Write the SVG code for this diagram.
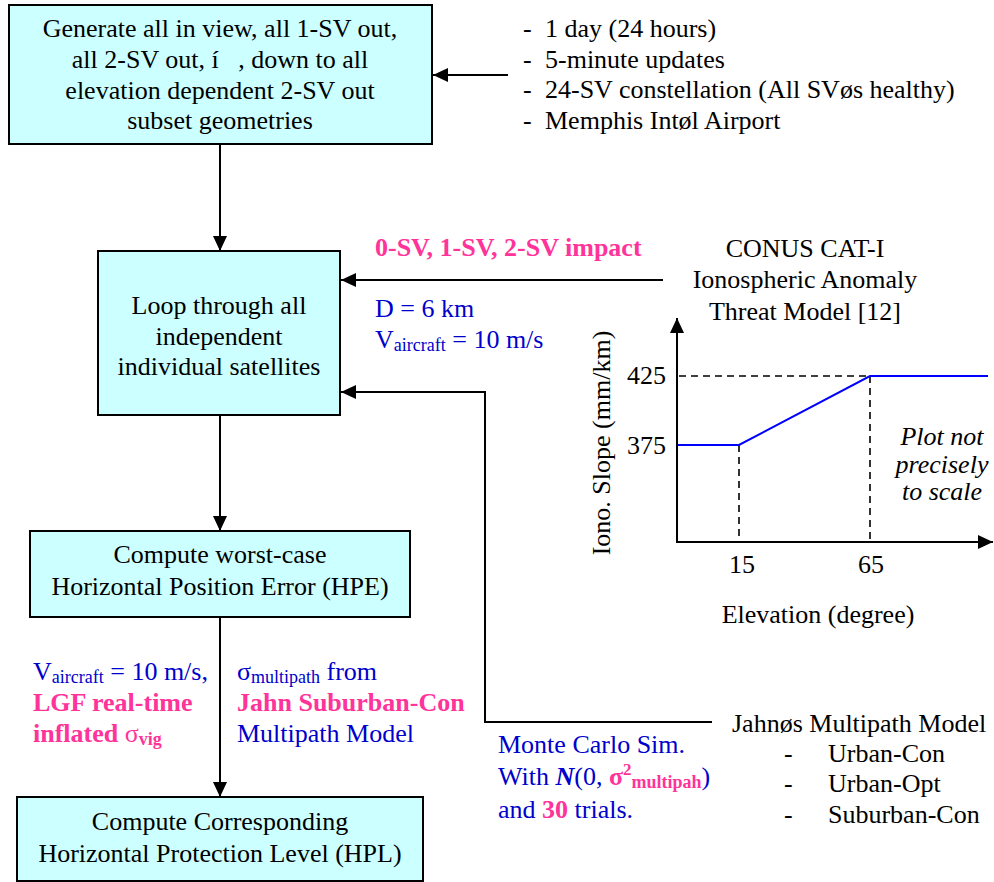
<svg xmlns="http://www.w3.org/2000/svg" width="994" height="882" viewBox="0 0 994 882">
<style>
text{font-family:"Liberation Serif","Times New Roman",serif;font-size:26px;fill:#000}
.c{text-anchor:middle}
.box{fill:#CCFFFF;stroke:#000;stroke-width:2}
.ln{fill:none;stroke:#000;stroke-width:2}
.dash{fill:none;stroke:#000;stroke-width:1.6;stroke-dasharray:7,5}
.blue{fill:#0000CC}
.pink{fill:#FF3399;font-weight:bold}
.sub{font-size:18px}
.it{font-style:italic}
.pre{white-space:pre}
</style>
<defs>
<marker id="ah" markerUnits="userSpaceOnUse" markerWidth="16" markerHeight="14" refX="15" refY="7" orient="auto">
<path d="M0,0 L15,7 L0,14 Z" fill="#000"/>
</marker>
</defs>

<g id="connectors">
<line class="ln" x1="220" y1="144" x2="220" y2="251" marker-end="url(#ah)"/>
<line class="ln" x1="220" y1="415" x2="220" y2="531" marker-end="url(#ah)"/>
<line class="ln" x1="220" y1="617" x2="220" y2="797" marker-end="url(#ah)"/>
<line class="ln" x1="508" y1="75" x2="433" y2="75" marker-end="url(#ah)"/>
<line class="ln" x1="663" y1="280" x2="341" y2="280" marker-end="url(#ah)"/>
<polyline class="ln" points="712,722 485,722 485,392 341,392" marker-end="url(#ah)"/>
</g>

<g id="node-generate">
<rect class="box" x="9" y="5" width="423" height="139"/>
<text class="c" x="220" y="37">Generate all in view, all 1-SV out,</text>
<text class="c pre" x="220" y="68">all 2-SV out, í   , down to all</text>
<text class="c" x="220" y="99">elevation dependent 2-SV out</text>
<text class="c" x="220" y="129">subset geometries</text>
</g>

<g id="node-settings">
<text x="523" y="37">-</text><text x="545" y="37">1 day (24 hours)</text>
<text x="523" y="68">-</text><text x="545" y="68">5-minute updates</text>
<text x="523" y="98">-</text><text x="545" y="98">24-SV constellation (All SVøs healthy)</text>
<text x="523" y="129">-</text><text x="545" y="129">Memphis Intøl Airport</text>
</g>

<g id="node-loop">
<rect class="box" x="98" y="251" width="242" height="164"/>
<text class="c" x="219" y="314">Loop through all</text>
<text class="c" x="219" y="345">independent</text>
<text class="c" x="219" y="375">individual satellites</text>
</g>

<g id="label-impact">
<text class="pink" x="375" y="256">0-SV, 1-SV, 2-SV impact</text>
<text class="blue" x="375" y="317">D = 6 km</text>
<text class="blue" x="375" y="348">V<tspan class="sub" dy="3">aircraft</tspan><tspan dy="-3"> = 10 m/s</tspan></text>
</g>

<g id="node-threat">
<text class="c" x="805" y="257">CONUS CAT-I</text>
<text class="c" x="805" y="288">Ionospheric Anomaly</text>
<text class="c" x="805" y="320">Threat Model [12]</text>
</g>

<g id="chart">
<line class="ln" x1="677" y1="543" x2="677" y2="318" marker-end="url(#ah)"/>
<line class="ln" x1="676" y1="542" x2="993" y2="542" marker-end="url(#ah)"/>
<line class="dash" x1="679" y1="376" x2="870" y2="376"/>
<line class="dash" x1="739" y1="445" x2="739" y2="541"/>
<line class="dash" x1="870" y1="376" x2="870" y2="541"/>
<polyline points="678,445 739,445 870,376 988,376" fill="none" stroke="#0000FF" stroke-width="2"/>
<text x="666" y="384" text-anchor="end">425</text>
<text x="666" y="454" text-anchor="end">375</text>
<text class="c" x="742" y="573">15</text>
<text class="c" x="871" y="573">65</text>
<text class="c" x="818" y="623">Elevation (degree)</text>
<text class="c" transform="translate(610,443) rotate(-90)">Iono. Slope (mm/km)</text>
<text class="c it" x="942" y="445">Plot not</text>
<text class="c it" x="942" y="473">precisely</text>
<text class="c it" x="942" y="500">to scale</text>
</g>

<g id="node-hpe">
<rect class="box" x="30" y="531" width="380" height="86"/>
<text class="c" x="220" y="563">Compute worst-case</text>
<text class="c" x="220" y="595">Horizontal Position Error (HPE)</text>
</g>

<g id="label-hpl-left">
<text class="blue" x="33" y="680">V<tspan class="sub" dy="3">aircraft</tspan><tspan dy="-3"> = 10 m/s,</tspan></text>
<text class="pink" x="33" y="711">LGF real-time</text>
<text class="pink" x="33" y="742">inflated <tspan style="font-weight:normal">σ</tspan><tspan class="sub" dy="3">vig</tspan></text>
</g>

<g id="label-hpl-right">
<text class="blue" x="237" y="680">σ<tspan class="sub" dy="3">multipath</tspan><tspan dy="-3"> from</tspan></text>
<text class="pink" x="237" y="711">Jahn Suburban-Con</text>
<text class="blue" x="237" y="742">Multipath Model</text>
</g>

<g id="label-montecarlo">
<text class="blue" x="498" y="753">Monte Carlo Sim.</text>
<text class="blue" x="498" y="785">With <tspan style="font-weight:bold;font-style:italic">N</tspan>(0, <tspan class="pink">σ</tspan><tspan class="pink" style="font-size:17px" dy="-10">2</tspan><tspan class="pink sub" dy="13">multipah</tspan><tspan dy="-3">)</tspan></text>
<text class="blue" x="498" y="818">and <tspan class="pink">30</tspan> trials.</text>
</g>

<g id="node-multipath">
<text x="732" y="732">Jahnøs Multipath Model</text>
<text x="784" y="762">-</text><text x="828" y="762">Urban-Con</text>
<text x="784" y="792">-</text><text x="828" y="792">Urban-Opt</text>
<text x="784" y="823">-</text><text x="828" y="823">Suburban-Con</text>
</g>

<g id="node-hpl">
<rect class="box" x="17" y="797" width="406" height="84"/>
<text class="c" x="220" y="830">Compute Corresponding</text>
<text class="c" x="220" y="862">Horizontal Protection Level (HPL)</text>
</g>
</svg>
